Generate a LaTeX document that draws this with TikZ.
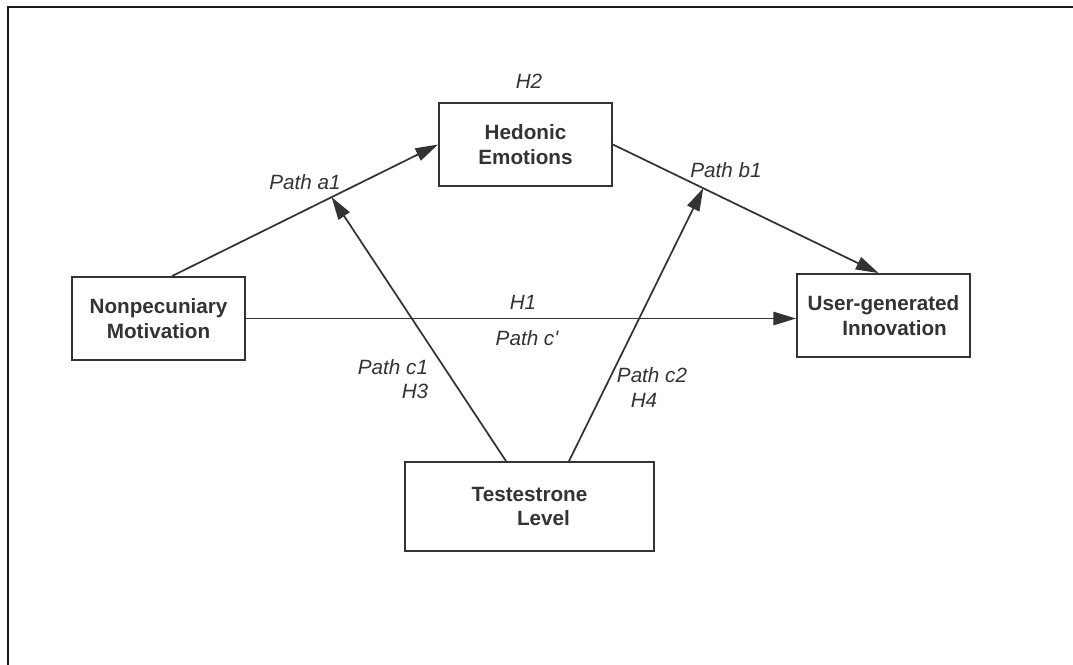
\documentclass[tikz,border=0pt]{standalone}
\usepackage{fontspec}
\setmainfont{Liberation Sans}
\usetikzlibrary{arrows.meta,calc}
\definecolor{ink}{HTML}{333333}
\begin{document}
\begin{tikzpicture}[x=0.75pt,y=-0.75pt,
  box/.style={draw=ink,line width=1.4pt,fill=white,inner sep=0pt,align=center,
    text=ink,font=\bfseries\fontsize{15.5}{18.5}\selectfont,
    minimum width=129.75pt,minimum height=62.25pt},
  lbl/.style={text=ink,font=\itshape\fontsize{15.5}{18.5}\selectfont,inner sep=0pt},
  conn/.style={draw=ink,line width=1.3pt},
  arr/.style={conn,-{Triangle[length=17pt,width=10pt]}}]
\useasboundingbox (0,0) rectangle (1073,664);
\draw[line width=1.8pt,black!90] (8,7) rectangle (1095,690);
% boxes
\node[box] (nm) at (158.5,318.5) {Nonpecuniary\\Motivation};
\node[box] (he) at (525.5,144.5) {Hedonic\\Emotions};
\node[box] (ugi) at (883.5,315.5) {User-generated\\\hspace*{16.5pt}Innovation};
\node[box,minimum width=186.75pt,minimum height=66.75pt] (tl) at (529.5,506.5) {Testestrone\\\hspace*{21pt}Level};
% anchor points
\coordinate (a1s) at ($(nm.north)+(13.5,0)$);
\coordinate (b1e) at ($(ugi.north)+(-5,0)$);
\coordinate (c1s) at ($(tl.north)+(-23.5,0)$);
\coordinate (c2s) at ($(tl.north)+(39.5,0)$);
\coordinate (m1) at ($(a1s)!0.6!(he.west)$);
\coordinate (m2) at ($(he.east)!0.34!(b1e)$);
% connectors
\draw[arr] (a1s) -- (he.west);
\draw[arr] (he.east) -- (b1e);
\draw[arr] (nm.east) -- (nm.east -| ugi.west);
\draw[arr] (c1s) -- (m1);
\draw[arr] (c2s) -- (m2);
% labels
\node[lbl] (h2) at (529,81) {H2};
\node[lbl] (pa1) at (305,182) {Path a1};
\node[lbl] (pb1) at (726,170) {Path b1};
\node[lbl] (h1) at (523,302) {H1};
\node[lbl] (pcp) at (527,338) {Path c\textquotesingle};
\node[lbl] (pc1) at (393,367) {Path c1};
\node[lbl] (h3) at (415,391) {H3};
\node[lbl] (pc2) at (652,375) {Path c2};
\node[lbl] (h4) at (644,400) {H4};
\end{tikzpicture}
\end{document}
